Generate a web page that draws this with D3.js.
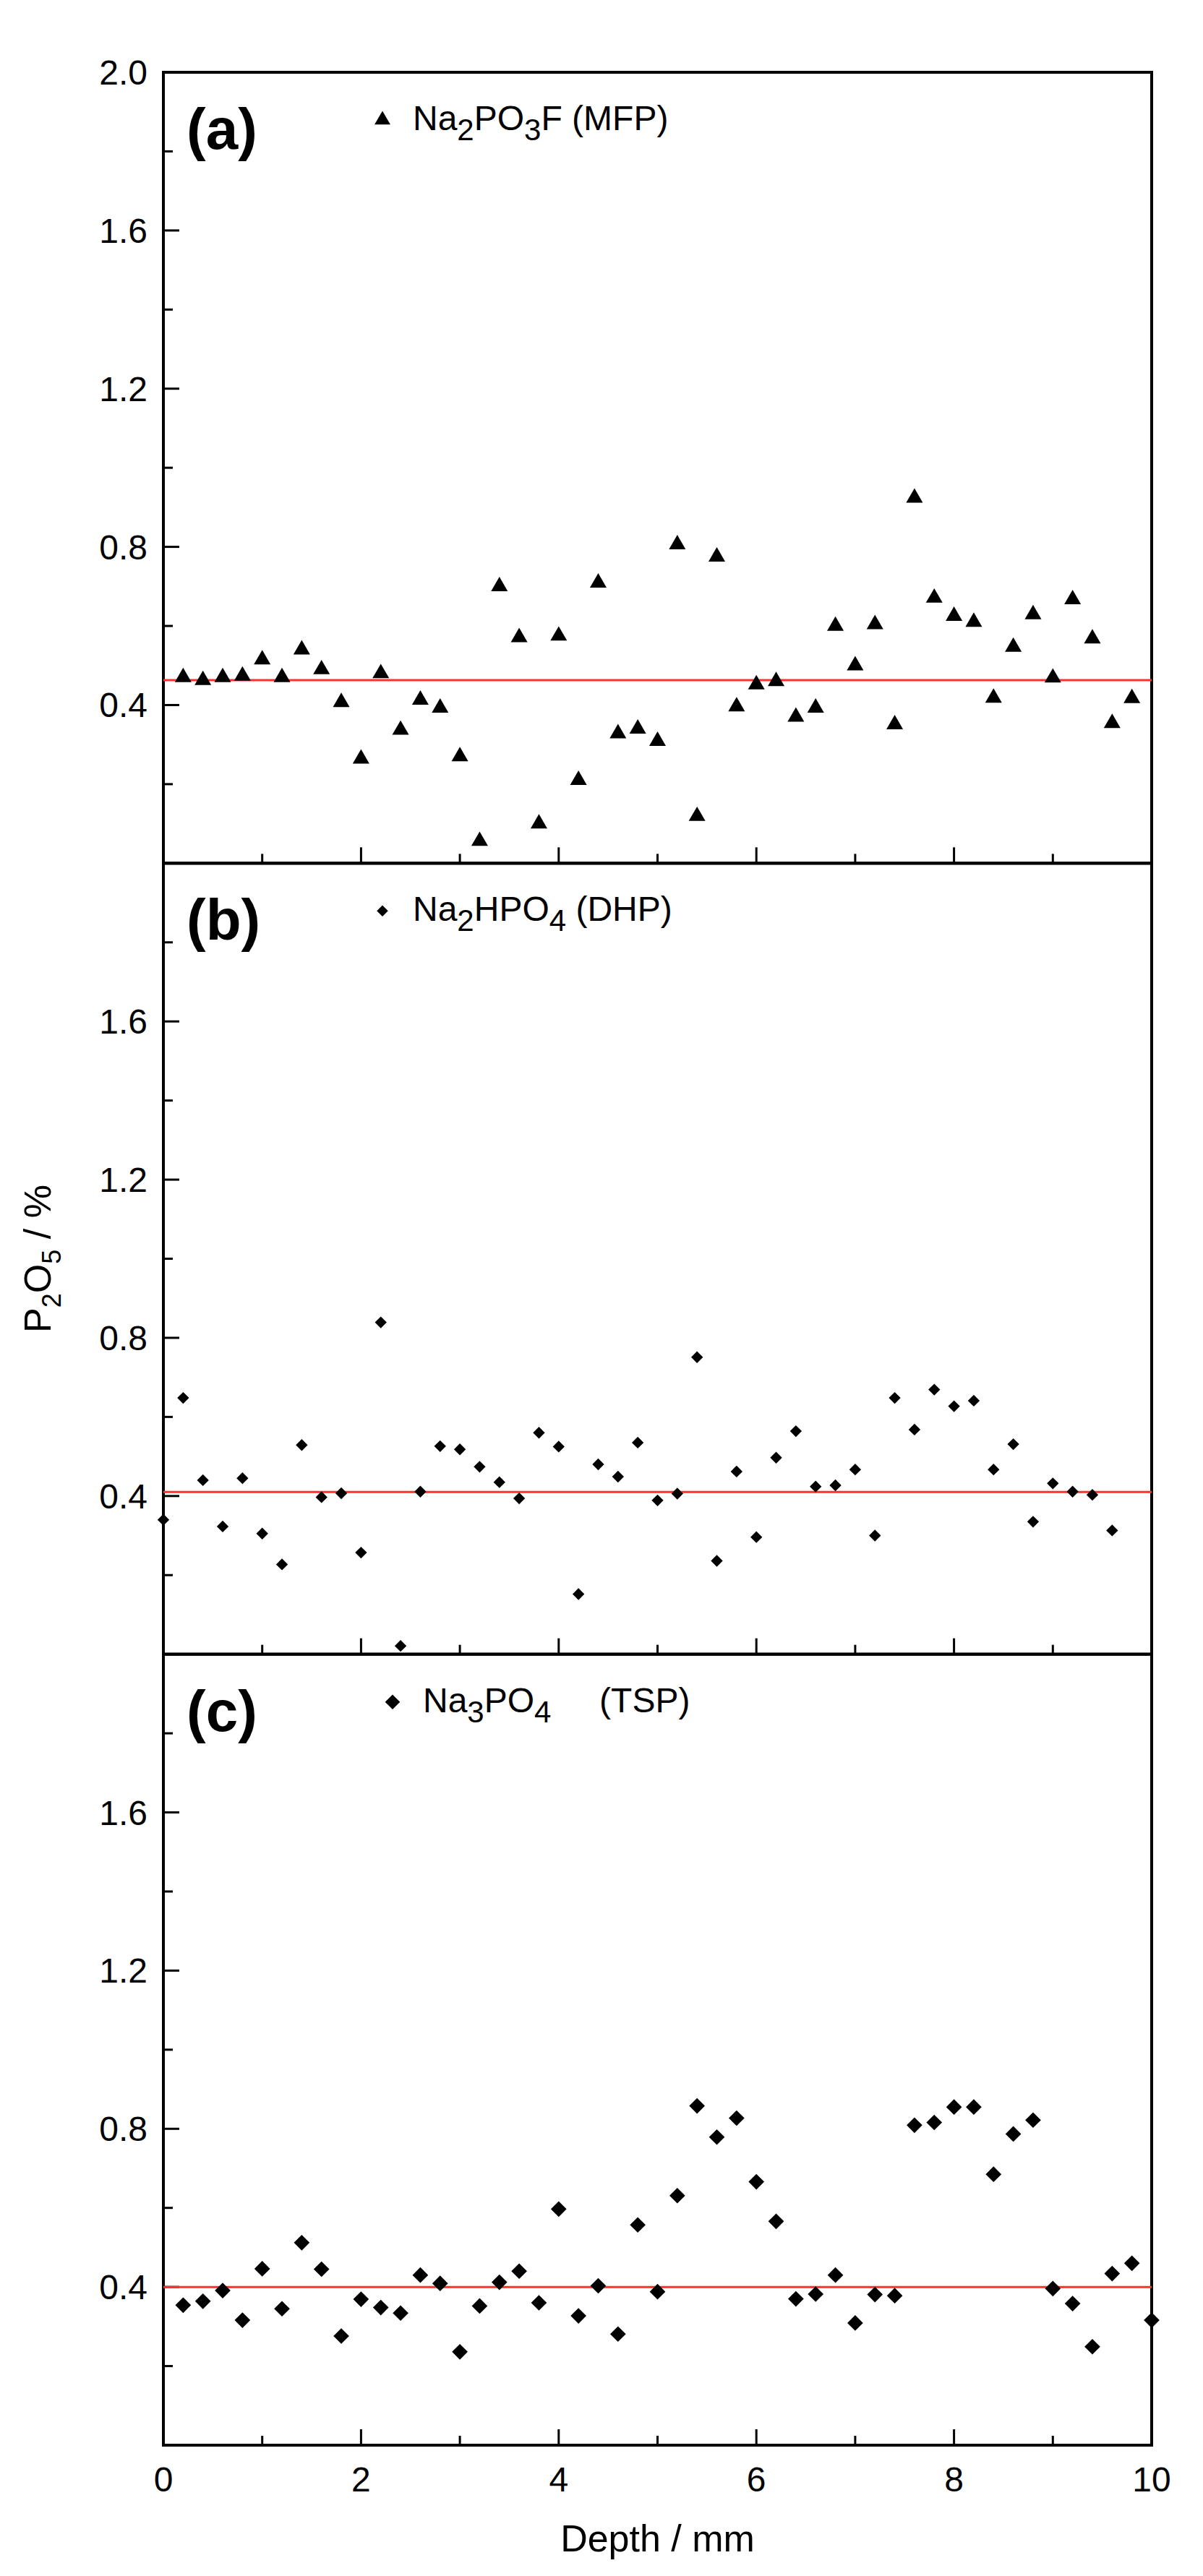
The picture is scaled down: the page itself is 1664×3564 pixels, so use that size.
<!DOCTYPE html>
<html><head><meta charset="utf-8">
<script src="https://cdn.jsdelivr.net/npm/d3@7"></script>
<style>body{margin:0;background:#fff}text{font-family:"Liberation Sans",Arial,sans-serif;white-space:pre}</style>
</head><body><svg id="c" width="1664" height="3564"></svg>
<script>
const depthA = d3.range(1,50).map(i=>+(i*0.2).toFixed(1));
const valuesA = [0.47,0.463,0.47,0.474,0.515,0.47,0.54,0.49,0.407,0.264,0.48,0.337,0.413,0.393,0.27,0.056,0.70,0.571,0.10,0.575,0.21,0.709,0.328,0.34,0.309,0.806,0.119,0.775,0.396,0.452,0.46,0.37,0.393,0.60,0.50,0.604,0.351,0.924,0.671,0.625,0.61,0.418,0.547,0.629,0.469,0.667,0.568,0.354,0.417];
const depthB = d3.range(0,49).map(i=>+(i*0.2).toFixed(1));
const valuesB = [0.34,0.648,0.44,0.323,0.445,0.305,0.227,0.529,0.397,0.407,0.257,0.839,0.021,0.411,0.526,0.518,0.474,0.435,0.394,0.56,0.525,0.152,0.48,0.449,0.535,0.389,0.406,0.751,0.236,0.462,0.296,0.497,0.564,0.424,0.427,0.467,0.30,0.648,0.568,0.669,0.627,0.641,0.467,0.531,0.335,0.432,0.411,0.403,0.313];
const depthC = d3.range(1,51).map(i=>+(i*0.2).toFixed(1));
const valuesC = [0.354,0.364,0.391,0.316,0.446,0.345,0.512,0.445,0.276,0.369,0.348,0.334,0.43,0.409,0.236,0.352,0.412,0.44,0.36,0.597,0.327,0.403,0.281,0.557,0.388,0.631,0.858,0.779,0.827,0.666,0.566,0.37,0.382,0.43,0.309,0.381,0.378,0.809,0.816,0.855,0.855,0.685,0.787,0.822,0.396,0.358,0.249,0.434,0.46,0.316];
const meanLines = [0.463,0.41,0.40];
const panelLabels = ["(a)","(b)","(c)"];
const legendNames = [["Na","2","PO","3","F (MFP)"],["Na","2","HPO","4"," (DHP)"],["Na","3","PO","4","     (TSP)"]];
const xTicks = [0,2,4,6,8,10];
const yTickLabels = [0.4,0.8,1.2,1.6,2.0];

const svg = d3.select("#c");
const L=226, R=1593, T=100, B=3383, ph=(B-T)/3;
const x = d3.scaleLinear().domain([0,10]).range([L,R]);
const series=[[depthA,valuesA,"tri"],[depthB,valuesB,"dia"],[depthC,valuesC,"diaL"]];
series.forEach(([dx,dv,sym],i)=>{
  const top=T+i*ph, bot=top+ph;
  const y=d3.scaleLinear().domain([0,2]).range([bot,top]);
  const g=svg.append("g");
  g.append("rect").attr("x",L).attr("y",top).attr("width",R-L).attr("height",ph).attr("fill","none").attr("stroke","#000").attr("stroke-width",4);
  d3.range(0.2,2.0001,0.2).forEach(v=>{
    const maj = Math.round(v*10)%4===0;
    g.append("line").attr("x1",L).attr("x2",L+(maj?22:13)).attr("y1",y(v)).attr("y2",y(v)).attr("stroke","#000").attr("stroke-width",3);
  });
  yTickLabels.forEach(v=>{
    if(i>0 && v===2.0) return;
    g.append("text").attr("x",204).attr("y",y(v)+17).attr("text-anchor","end").attr("font-size",48).text(v.toFixed(1));
  });
  d3.range(1,10).forEach(v=>{
    const maj=v%2===0;
    g.append("line").attr("x1",x(v)).attr("x2",x(v)).attr("y1",bot).attr("y2",bot-(maj?22:13)).attr("stroke","#000").attr("stroke-width",3);
  });
  g.append("line").attr("x1",L).attr("x2",R).attr("y1",y(meanLines[i])).attr("y2",y(meanLines[i])).attr("stroke","#ff3030").attr("stroke-width",3);
  const symT = sym==="tri"?d3.symbolTriangle:d3.symbolDiamond2;
  const size = sym==="tri"?230:(sym==="dia"?170:300);
  g.selectAll("path.p").data(dx.map((d,k)=>[d,dv[k]])).join("path")
    .attr("transform",d=>`translate(${x(d[0])},${y(d[1])})`)
    .attr("d",d3.symbol(symT,size)).attr("fill","#000");
  const ly = top+80;
  g.append("text").attr("x",258).attr("y",ly+26).attr("font-size",80).attr("font-weight","bold").text(panelLabels[i]);
  const lx = i===2?543:529;
  g.append("path").attr("transform",`translate(${lx},${ly-14})`).attr("d",d3.symbol(symT,size*0.9)).attr("fill","#000");
  const n=legendNames[i];
  const t=g.append("text").attr("x",lx+42).attr("y",ly).attr("font-size",48).attr("xml:space","preserve");
  t.append("tspan").text(n[0]);
  t.append("tspan").attr("dy",14).attr("font-size",42).text(n[1]);
  t.append("tspan").attr("dy",-14).text(n[2]);
  t.append("tspan").attr("dy",14).attr("font-size",42).text(n[3]);
  t.append("tspan").attr("dy",-14).text(n[4]);
});
xTicks.forEach(v=>svg.append("text").attr("x",x(v)).attr("y",3447).attr("text-anchor","middle").attr("font-size",48).text(v));
svg.append("text").attr("x",(L+R)/2).attr("y",3530).attr("text-anchor","middle").attr("font-size",52).text("Depth / mm");
const yl=svg.append("text").attr("transform",`translate(70,${T+1.5*ph}) rotate(-90)`).attr("text-anchor","middle").attr("font-size",52);
yl.append("tspan").text("P");
yl.append("tspan").attr("dy",14).attr("font-size",36).text("2");
yl.append("tspan").attr("dy",-14).text("O");
yl.append("tspan").attr("dy",14).attr("font-size",36).text("5");
yl.append("tspan").attr("dy",-14).text(" / %");
</script></body></html>
